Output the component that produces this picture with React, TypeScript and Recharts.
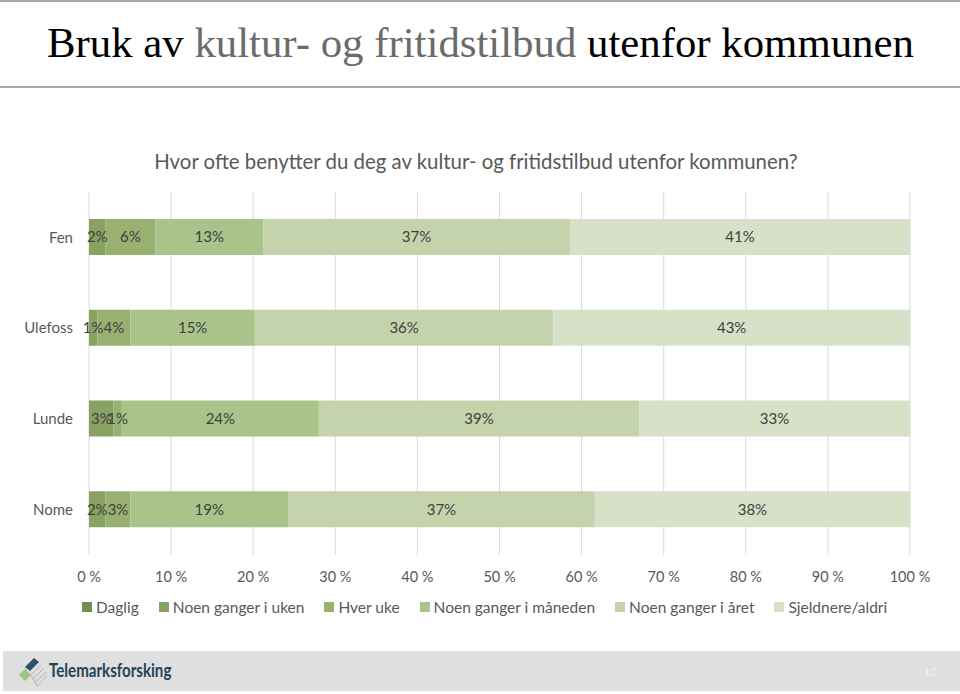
import React from 'react';
import {
  BarChart,
  Bar,
  XAxis,
  YAxis,
  CartesianGrid,
  Legend,
  LabelList
} from 'recharts';

const categories = ['Fen', 'Ulefoss', 'Lunde', 'Nome'];
const daglig = [0, 0, 0, 0];
const noenGangerUken = [2, 1, 3, 2];
const hverUke = [6, 4, 1, 3];
const noenGangerMaaneden = [13, 15, 24, 19];
const noenGangerAaret = [37, 36, 39, 37];
const sjeldnereAldri = [41, 43, 33, 38];
const xTicks = [0, 0.1, 0.2, 0.3, 0.4, 0.5, 0.6, 0.7, 0.8, 0.9, 1];

const SERIES = [
  { key: 'daglig', name: 'Daglig', color: '#71904f', values: daglig },
  { key: 'uken', name: 'Noen ganger i uken', color: '#88a262', values: noenGangerUken },
  { key: 'hverUke', name: 'Hver uke', color: '#98b170', values: hverUke },
  { key: 'maaneden', name: 'Noen ganger i måneden', color: '#a9c38a', values: noenGangerMaaneden },
  { key: 'aaret', name: 'Noen ganger i året', color: '#c5d3ad', values: noenGangerAaret },
  { key: 'aldri', name: 'Sjeldnere/aldri', color: '#d6e1c8', values: sjeldnereAldri }
];

const data = categories.map((cat, i) => {
  const row: any = { cat };
  SERIES.forEach(s => {
    row[s.key] = s.values[i];
  });
  return row;
});

const FONT = 'Lato, "Open Sans", sans-serif';

const pctLabel = (v: any) => (v ? `${v}%` : '');

const LegendContent = () => (
  <div
    style={{
      display: 'flex',
      justifyContent: 'flex-start',
      fontFamily: FONT,
      fontSize: 15.5,
      color: '#595959',
      height: 24,
      alignItems: 'center',
      paddingLeft: 82
    }}
  >
    {SERIES.map(s => (
      <div key={s.key} style={{ display: 'flex', alignItems: 'center', marginRight: 20 }}>
        <span style={{ width: 10, height: 10, background: s.color, display: 'inline-block', marginRight: 4 }} />
        <span>{s.name}</span>
      </div>
    ))}
  </div>
);

// rough drawing of the Telemarksforsking logo mark
const Logo = () => (
  <svg width={200} height={40} style={{ position: 'absolute', left: 0, top: 0 }}>
    <g stroke="#b5b5b5" strokeWidth={1}>
      <line x1="28" y1="24" x2="38" y2="14" />
      <line x1="30" y1="28" x2="41" y2="17" />
      <line x1="32" y1="32" x2="43" y2="21" />
      <line x1="34" y1="35" x2="44" y2="25" />
      <line x1="28" y1="24" x2="34" y2="35" />
    </g>
    <polygon points="22,16 31,7 36,11 27,20" fill="#2a5466" />
    <polygon points="16,24 22,18 28,24 22,30" fill="#9ec27f" />
    <text
      x={0}
      y={0}
      fontFamily={FONT}
      fontSize={18}
      fontWeight={700}
      fill="#1e4456"
      transform="translate(46,26) scale(0.84,1)"
    >
      Telemarksforsking
    </text>
  </svg>
);

export default function App() {
  return (
    <div
      style={{
        position: 'absolute',
        left: 0,
        top: 0,
        width: 960,
        height: 694,
        background: '#fff',
        overflow: 'hidden'
      }}
    >
      <div style={{ position: 'absolute', left: 0, top: 0, width: 960, height: 2, background: '#a6a6a6' }} />
      <div
        style={{
          position: 'absolute',
          left: 47,
          top: 17,
          fontFamily: '"Liberation Serif", "DejaVu Serif", serif',
          fontSize: 42.8,
          color: '#000',
          whiteSpace: 'nowrap',
          lineHeight: '52px'
        }}
      >
        Bruk av <span style={{ color: '#6b6b6b' }}>kultur- og fritidstilbud</span> utenfor kommunen
      </div>
      <div style={{ position: 'absolute', left: 0, top: 86, width: 960, height: 2, background: '#a6a6a6' }} />
      <div
        style={{
          position: 'absolute',
          left: 0,
          width: 952,
          top: 149,
          textAlign: 'center',
          fontFamily: FONT,
          fontSize: 20.4,
          color: '#595959'
        }}
      >
        Hvor ofte benytter du deg av kultur- og fritidstilbud utenfor kommunen?
      </div>

      <div style={{ position: 'absolute', left: 0, top: 180 }}>
        <BarChart
          width={960}
          height={450}
          data={data}
          layout="vertical"
          stackOffset="expand"
          barSize={36}
          margin={{ top: 12, right: 50, left: 0, bottom: 11 }}
        >
          <CartesianGrid horizontal={false} stroke="#d9d9d9" />
          <XAxis
            type="number"
            domain={[0, 1]}
            ticks={xTicks}
            tickFormatter={(v: number) => `${Math.round(v * 100)} %`}
            axisLine={false}
            tickLine={false}
            tickSize={0}
            tickMargin={17}
            height={40}
            tick={{ fontSize: 14.5, fill: '#595959', fontFamily: FONT }}
          />
          <YAxis
            type="category"
            dataKey="cat"
            width={89}
            axisLine={false}
            tickLine={false}
            tickSize={0}
            tickMargin={16}
            tick={{ fontSize: 15, fill: '#595959', fontFamily: FONT }}
          />
          <Legend verticalAlign="bottom" height={24} content={<LegendContent />} />
          {SERIES.map(s => (
            <Bar
              key={s.key}
              dataKey={s.key}
              name={s.name}
              stackId="a"
              fill={s.color}
              isAnimationActive={false}
            >
              <LabelList
                dataKey={s.key}
                position="center"
                formatter={pctLabel}
                style={{ fontSize: 15, fill: '#404040', fontFamily: FONT }}
              />
            </Bar>
          ))}
        </BarChart>
      </div>

      <div style={{ position: 'absolute', left: 3, top: 651, width: 957, height: 40, background: '#dfdfdf' }}>
        <Logo />
        <div
          style={{
            position: 'absolute',
            left: 921,
            top: 14,
            fontFamily: FONT,
            fontSize: 11,
            color: '#f4f4f4'
          }}
        >
          10
        </div>
      </div>
    </div>
  );
}
